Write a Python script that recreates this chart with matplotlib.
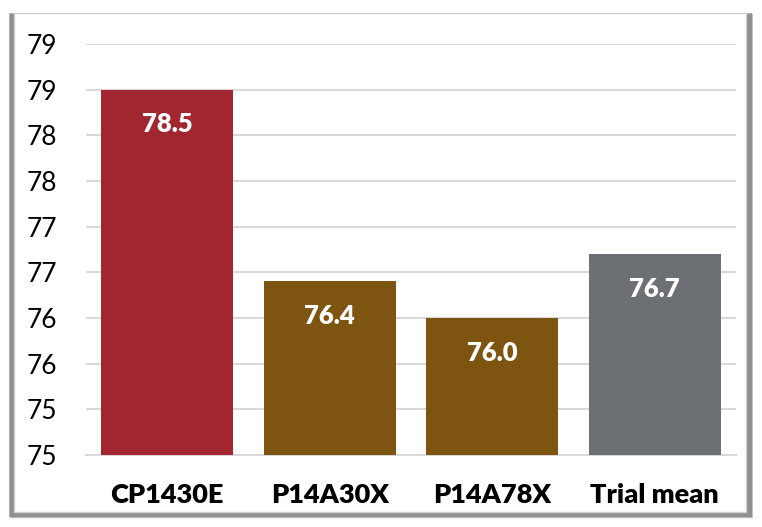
import matplotlib
matplotlib.use("Agg")
import matplotlib.pyplot as plt
from matplotlib.patches import Rectangle

categories = ["CP1430E", "P14A30X", "P14A78X", "Trial mean"]
values = [78.5, 76.4, 76.0, 76.7]
colors = ["#A2262F", "#7E5510", "#7E5510", "#6C6F73"]
yticks = [74.5, 75.0, 75.5, 76.0, 76.5, 77.0, 77.5, 78.0, 78.5, 79.0]
ytick_labels = ["75", "75", "76", "76", "77", "77", "78", "78", "79", "79"]

W, H = 762, 527
fig = plt.figure(figsize=(W / 100, H / 100), dpi=100)
fig.patch.set_facecolor("white")

def px(x0, y0, x1, y1):
    return (x0 / W, 1 - y1 / H), (x1 - x0) / W, (y1 - y0) / H

# shadow layers
for i, a in enumerate([0.10, 0.14, 0.18, 0.24, 0.30]):
    off = 5 - i
    xy, w, h = px(9 + off * 0.2, 12 + off * 0.6, 752 - (5 - off) * 0.2 + 1, 519 - (5 - off) * 0.6)
    fig.patches.append(Rectangle(xy, w, h, transform=fig.transFigure,
                                 facecolor=(0.35, 0.35, 0.35, a), edgecolor="none", zorder=0))
xy, w, h = px(14, 13, 746, 512)
fig.patches.append(Rectangle(xy, w, h, transform=fig.transFigure,
                             facecolor="white", edgecolor="#D0D0D0", linewidth=1.0, zorder=1))

ax = fig.add_axes([86 / W, 1 - 455 / H, (736 - 86) / W, (455 - 44) / H])
ax.set_facecolor("none")
ax.set_zorder(2)

x = list(range(len(categories)))
bars = ax.bar(x, values, width=0.81, color=colors, zorder=3)
ax.set_xlim(-0.5, 3.5)
ax.set_ylim(74.5, 79.0)
ax.set_yticks(yticks)
ax.set_yticklabels(ytick_labels)
ax.yaxis.grid(True, color="#D9D9D9", linewidth=1.5, zorder=0)
ax.set_axisbelow(True)
for s in ["top", "right", "left"]:
    ax.spines[s].set_visible(False)
ax.spines["bottom"].set_color("#D9D9D9")
ax.spines["bottom"].set_linewidth(1.5)
ax.tick_params(axis="y", length=0, pad=21, labelsize=19, labelcolor="black")
ax.tick_params(axis="x", length=0, pad=20)
ax.set_xticks(x)
ax.set_xticklabels(categories, fontsize=19.5, fontweight="heavy", family="Lato")
for lab in ax.get_yticklabels():
    lab.set_family("Lato")

for b, v in zip(bars, values):
    ax.annotate(f"{v:.1f}", (b.get_x() + b.get_width() / 2, v),
                xytext=(0, -25), textcoords="offset points",
                ha="center", va="center", color="white",
                fontsize=18.5, fontweight="heavy", family="Lato", zorder=4)

fig.savefig("out.png", dpi=100)
